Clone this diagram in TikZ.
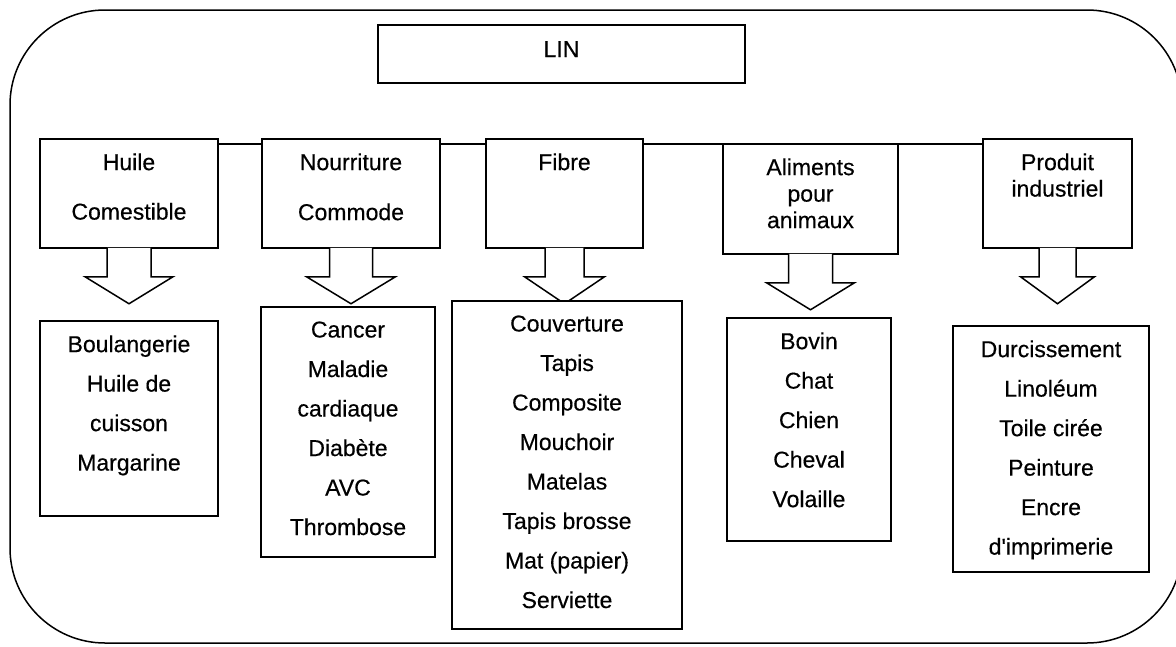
\documentclass[tikz,border=0pt]{standalone}
\usepackage{fontspec}
\setmainfont[FakeBold=0.4]{Liberation Sans}
\usetikzlibrary{calc, positioning}

\tikzset{
  box/.style={draw, fill=white, line width=1.5pt, inner sep=0pt},
  txt/.style={align=center, inner sep=0pt, font=\fontsize{23}{26.5}\selectfont},
  lsttxt/.style={txt, font=\fontsize{23}{39.5}\selectfont},
  blockarrow/.style={draw, fill=white, line width=1.5pt, line join=miter}
}

\begin{document}
\begin{tikzpicture}[x=1pt, y=-1pt]
  \useasboundingbox (0,0) rectangle (1176,646);
  \draw[line width=1.5pt, rounded corners=95pt] (10,10) rectangle (1182,643);

  % title
  \node[box, txt, minimum width=367pt, minimum height=58pt,
        text height=16pt, text depth=10pt] (lin) at (561.5,54) {LIN};

  % categories
  \node[box, minimum width=178pt, minimum height=109pt] (huile) at (129,193.5) {};
  \node[box, minimum width=178pt, minimum height=109pt] (nourr) at (351,193.5) {};
  \node[box, minimum width=157pt, minimum height=109pt] (fibre) at (564.5,193.5) {};
  \node[box, minimum width=175pt, minimum height=110pt] (alim) at (810.5,199) {};
  \node[box, minimum width=149pt, minimum height=109pt] (prod) at (1057.5,193.5) {};

  \node[txt, below=15pt of huile.north] (huileH) {Huile\\[23pt]Comestible};
  \node[txt, below=15pt of nourr.north] (nourrH) {Nourriture\\[23.5pt]Commode};
  \node[txt, below=15pt of fibre.north] (fibreH) {Fibre};
  \node[txt, below=15pt of alim.north] (alimH) {Aliments\\pour\\animaux};
  \node[txt, below=15pt of prod.north] (prodH) {Produit\\industriel};

  % bar between the categories
  \coordinate (bar) at (0,144);
  \foreach \a/\b in {huile/nourr, nourr/fibre, fibre/alim, alim/prod}
    \draw[line width=1.5pt] (\a.east |- bar) -- (\b.west |- bar);

  % block arrows
  \foreach \b/\s/\h in {huile/22/44, nourr/21.5/44.5, fibre/19.5/40, alim/22/44, prod/18.5/37}
    \draw[blockarrow] ($(\b.south)+(-\s,-0.9)$) -- ($(\b.south)+(-\s,28)$)
      -- ($(\b.south)+(-\h,28)$) -- ($(\b.south)+(0,55)$)
      -- ($(\b.south)+(\h,28)$) -- ($(\b.south)+(\s,28)$)
      -- ($(\b.south)+(\s,-0.9)$);

  % uses
  \node[box, minimum width=178pt, minimum height=195pt] (huileL) at (129,418.5) {};
  \node[box, minimum width=174pt, minimum height=250pt] (nourrL) at (348,432) {};
  \node[box, minimum width=230pt, minimum height=328pt] (fibreL) at (567,465) {};
  \node[box, minimum width=164pt, minimum height=223pt] (alimL) at (809,429.5) {};
  \node[box, minimum width=196pt, minimum height=246pt] (prodL) at (1051,449) {};

  \node[lsttxt, below=15pt of huileL.north] (huileT)
    {Boulangerie\\Huile de\\cuisson\\Margarine};
  \node[lsttxt, below=15pt of nourrL.north] (nourrT)
    {Cancer\\Maladie\\cardiaque\\Diabète\\AVC\\Thrombose};
  \node[lsttxt, below=15pt of fibreL.north] (fibreT)
    {Couverture\\Tapis\\Composite\\Mouchoir\\Matelas\\Tapis brosse\\Mat (papier)\\Serviette};
  \node[lsttxt, below=15pt of alimL.north] (alimT)
    {Bovin\\Chat\\Chien\\Cheval\\Volaille};
  \node[lsttxt, below=15pt of prodL.north] (prodT)
    {Durcissement\\Linoléum\\Toile cirée\\Peinture\\Encre\\d\textquotesingle imprimerie};
\end{tikzpicture}
\end{document}
